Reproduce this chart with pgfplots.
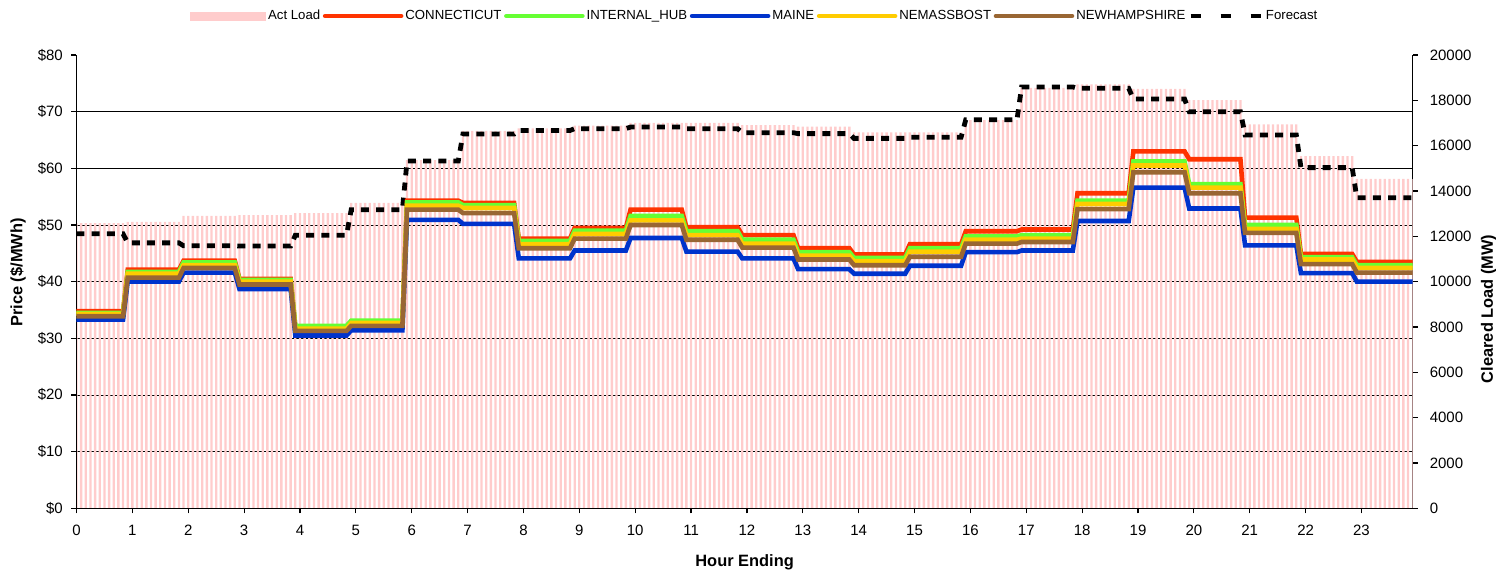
\documentclass[border=0pt]{standalone}
\usepackage{fontspec}
\setmainfont{Liberation Sans}
\usepackage{pgfplots}
\pgfplotsset{compat=1.18}
\usepackage{pgfplotstable}

\definecolor{ctc}{HTML}{FF3300}
\definecolor{ihc}{HTML}{66FF33}
\definecolor{mec}{HTML}{0033CC}
\definecolor{nbc}{HTML}{FFCC00}
\definecolor{nhc}{HTML}{996633}
\definecolor{loadc}{HTML}{FFCCCC}

\pgfplotstableread{
h load
0 12580
1 12640
2 12900
3 12940
4 13020
5 13480
6 15360
7 16650
8 16760
9 16880
10 17010
11 17010
12 16910
13 16840
14 16590
15 16590
16 17130
17 18550
18 18700
19 18500
20 18010
21 16940
22 15540
23 14530
}\loadtab

\pgfplotstableread{
x ct ih me nb nh fc
0 34.8 34.5 33.3 34.3 33.9 12110
0.8333 34.8 34.5 33.3 34.3 33.9 12110
0.9167 42.1 41.7 40.0 41.4 40.7 11710
1.8333 42.1 41.7 40.0 41.4 40.7 11710
1.9167 43.7 43.4 41.6 42.9 42.4 11580
2.8333 43.7 43.4 41.6 42.9 42.4 11580
2.9167 40.5 40.3 38.7 40.0 39.5 11570
3.8333 40.5 40.3 38.7 40.0 39.5 11570
3.9167 32.0 32.2 30.5 31.7 31.3 12050
4.8333 32.0 32.2 30.5 31.7 31.3 12050
4.9167 33.0 33.1 31.4 32.7 32.2 13170
5.8333 33.0 33.1 31.4 32.7 32.2 13170
5.9167 54.3 54.0 50.9 53.4 52.7 15320
6.8333 54.3 54.0 50.9 53.4 52.7 15320
6.9167 53.9 53.5 50.2 53.0 52.1 16510
7.8333 53.9 53.5 50.2 53.0 52.1 16510
7.9167 47.6 47.2 44.1 46.6 45.9 16670
8.8333 47.6 47.2 44.1 46.6 45.9 16670
8.9167 49.5 49.0 45.5 48.4 47.6 16750
9.8333 49.5 49.0 45.5 48.4 47.6 16750
9.9167 52.7 51.6 47.7 50.8 50.0 16820
10.8333 52.7 51.6 47.7 50.8 50.0 16820
10.9167 49.6 48.9 45.3 48.2 47.4 16750
11.8333 49.6 48.9 45.3 48.2 47.4 16750
11.9167 48.2 47.4 44.1 46.7 46.0 16570
12.8333 48.2 47.4 44.1 46.7 46.0 16570
12.9167 45.9 45.2 42.2 44.6 43.9 16530
13.8333 45.9 45.2 42.2 44.6 43.9 16530
13.9167 44.8 44.2 41.4 43.6 42.9 16320
14.8333 44.8 44.2 41.4 43.6 42.9 16320
14.9167 46.6 45.9 42.8 45.3 44.4 16370
15.8333 46.6 45.9 42.8 45.3 44.4 16370
15.9167 48.9 48.0 45.2 47.4 46.7 17140
16.8333 48.9 48.0 45.2 47.4 46.7 17140
16.9167 49.2 48.2 45.5 47.6 47.0 18590
17.8333 49.2 48.2 45.5 47.6 47.0 18590
17.9167 55.6 54.3 50.7 53.7 52.8 18530
18.8333 55.6 54.3 50.7 53.7 52.8 18530
18.9167 63.0 61.2 56.6 60.5 59.3 18060
19.8333 63.0 61.2 56.6 60.5 59.3 18060
19.9167 61.6 57.2 52.9 56.6 55.6 17500
20.8333 61.6 57.2 52.9 56.6 55.6 17500
20.9167 51.3 50.0 46.4 49.3 48.6 16470
21.8333 51.3 50.0 46.4 49.3 48.6 16470
21.9167 44.9 44.3 41.5 43.9 43.1 15030
22.8333 44.9 44.3 41.5 43.9 43.1 15030
22.9167 43.5 42.9 40.0 42.4 41.6 13700
23.9167 43.5 42.9 40.0 42.4 41.6 13700
}\pricetab

\pgfplotsset{
  base/.style={
    scale only axis, width=668.1pt, height=226.65pt,
    xmin=0, xmax=23.9167,
    at={(0,0)}, anchor=south west,
    axis line style={line width=0.7pt},
    tick style={line width=0.6pt, black},
    tick align=outside, major tick length=2.5pt,
    ticklabel style={font=\fontsize{7.5}{9}\selectfont},
    /pgf/number format/assume math mode=true,
    label style={font=\bfseries\fontsize{8.2}{10}\selectfont},
  }
}

\begin{document}
\begin{tikzpicture}
% grid, left and bottom axis
\begin{axis}[base, ymin=0, ymax=80,
  axis x line*=bottom, axis y line*=left,
  xtick={0,...,23}, ytick={0,10,...,80},
  xticklabel style={yshift=-2.5pt},
  yticklabel style={xshift=-0.8pt},
  yticklabel={\$\pgfmathprintnumber{\tick}},
  extra y ticks={10,20,...,70}, extra y tick labels={},
  extra y tick style={grid=major, major tick length=0pt},
  major grid style={black, line width=0.45pt},
  xlabel={Hour Ending}, ylabel={Price (\$/MWh)},
  xlabel style={at={(axis description cs:0.5,0)}, anchor=center, yshift=-27pt},
  ylabel style={at={(axis description cs:-0.0438,0.52)}, anchor=center},
]
\end{axis}
% load bars and forecast, right axis
\begin{axis}[base, ymin=0, ymax=20000,
  axis y line*=right, axis x line=none,
  ytick={0,2000,...,20000}, scaled y ticks=false,
  yticklabel style={xshift=2.5pt},
  /pgf/number format/1000 sep={},
  ylabel={Cleared Load (MW)},
  ylabel style={at={(axis description cs:1.0569,0.44)}, anchor=center},
  ybar, bar width=0.0417, bar shift=0pt,
]
\pgfplotsinvokeforeach{0,...,11}{
  \addplot[fill=loadc, draw=none] table[x expr=\thisrow{h}+#1/12-1/12, y=load]{\loadtab};
}
\addplot[fill=loadc, draw=none] coordinates {(23.9167,14530)};
\addplot[sharp plot, mark=none, draw=black, fill=none, line width=2.4pt, dash pattern=on 4pt off 3.6pt] table[x=x, y=fc]{\pricetab};
\end{axis}
% price lines, legend, axis lines on top
\begin{axis}[base, ymin=0, ymax=80,
  axis x line*=bottom, axis y line*=left,
  xtick=\empty, ytick=\empty,
  legend image code/.code={\draw[#1, line cap=round] (0pt,0pt) -- (38pt,0pt);},
  legend style={draw=none, fill=none, inner sep=0pt,
    at={(axis description cs:0.0849,1.086)}, anchor=west,
    font=\fontsize{6.6}{8}\selectfont,
    /tikz/every even column/.append style={column sep=0.3pt},
    nodes={inner sep=1pt}},
  legend columns=-1,
]
\addlegendimage{legend image code/.code={\fill[loadc] (0pt,-2pt) rectangle (37.5pt,2pt);}}
\addlegendentry{Act Load}
\addplot[ctc, line width=2.3pt, mark=none] table[x=x, y=ct]{\pricetab};
\addlegendentry{CONNECTICUT}
\addplot[ihc, line width=2.3pt, mark=none] table[x=x, y=ih]{\pricetab};
\addlegendentry{INTERNAL\_HUB}
\addplot[mec, line width=2.3pt, mark=none] table[x=x, y=me]{\pricetab};
\addlegendentry{MAINE}
\addplot[nbc, line width=2.3pt, mark=none] table[x=x, y=nb]{\pricetab};
\addlegendentry{NEMASSBOST}
\addplot[nhc, line width=2.3pt, mark=none] table[x=x, y=nh]{\pricetab};
\addlegendentry{NEWHAMPSHIRE}
\addlegendimage{legend image code/.code={\draw[black, line width=2.4pt, dash pattern=on 5pt off 10pt] (2.5pt,0pt) -- (38pt,0pt);}}
\addlegendentry{Forecast}
\end{axis}
\pgfresetboundingbox
\path[use as bounding box] (-38.25pt,-31.35pt) rectangle (709.75pt,254.15pt);
\end{tikzpicture}
\end{document}
